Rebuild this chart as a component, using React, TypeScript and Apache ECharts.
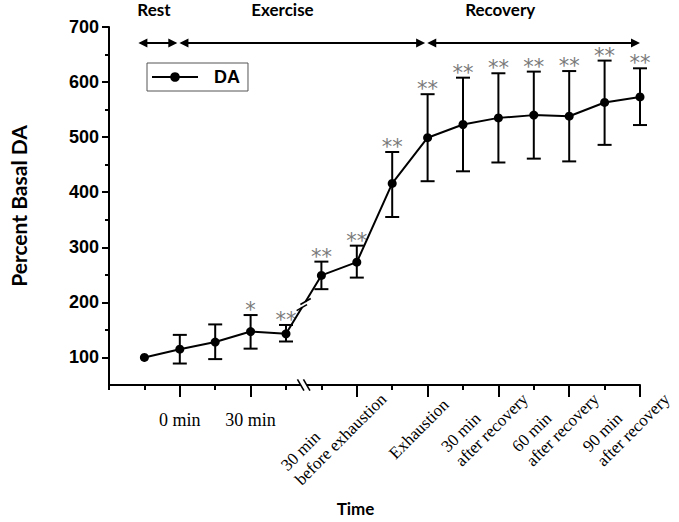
import React, { useEffect, useRef } from "react";
import * as echarts from "echarts";

// ---- data ----
const daMean = [100, 115, 128, 147, 143, 249, 273, 416, 499, 523, 535, 540, 538, 563, 573];
const daUpper = [100, 141, 160, 177, 159, 274, 303, 473, 578, 608, 616, 619, 620, 639, 625];
const daLower = [100, 89, 97, 116, 129, 224, 245, 355, 420, 438, 454, 461, 456, 486, 522];
const significance = ["", "", "", "*", "**", "**", "**", "**", "**", "**", "**", "**", "**", "**", "**"];

const flatTickIdx = [1, 3];
const flatTickLabels = ["0 min", "30 min"];
const slantTickIdx = [6, 8, 10, 12, 14];
const slantTickLabels = [
  "30 min\nbefore exhaustion",
  "Exhaustion",
  "30 min\nafter recovery",
  "60 min\nafter recovery",
  "90 min\nafter recovery",
];
const majorTickIdx = [1, 3, 6, 8, 10, 12, 14];
const minorTickIdx = [-1, 0, 2, 4, 5, 7, 9, 11, 13];
const yMajorTicks = [100, 200, 300, 400, 500, 600, 700];
const yMinorTicks = [150, 250, 350, 450, 550, 650];

const phaseNames = ["Rest", "Exercise", "Recovery"];
const phaseStart = [-0.17, 0.99, 7.99];
const phaseEnd = [0.93, 7.93, 14];
const phaseLabelX = [0.27, 3.9, 10.05];
const phaseLevel = 671;

const breakAfterIdx = 4;

const X_MIN = -1;
const X_MAX = 14;
const Y_MIN = 50;
const Y_MAX = 700;

const SANS = "Liberation Sans";
const SERIF = "Liberation Serif";
const TITLE = "Lato";

export default function App() {
  const ref = useRef<HTMLDivElement>(null);

  useEffect(() => {
    if (!ref.current) return;
    const chart = echarts.init(ref.current, undefined, { renderer: "svg" });

    const black = "#000";
    const labelFont = { fontFamily: SERIF, fontSize: 17, lineHeight: 20, color: black };

    const option: any = {
      animation: false,
      backgroundColor: "#fff",
      grid: { left: 108.6, right: 39, top: 27, bottom: 133.5 },
      legend: {
        data: ["DA"],
        left: 147,
        top: 63,
        orient: "horizontal",
        selectedMode: false,
        borderColor: "#555",
        borderWidth: 1,
        padding: [5, 8, 5, 4],
        itemWidth: 46,
        itemHeight: 12,
        textStyle: {
          fontFamily: SANS,
          fontWeight: "bold",
          fontSize: 18,
          color: black,
          padding: [0, 0, 0, 11],
        },
      },
      xAxis: [
        {
          type: "value",
          min: X_MIN,
          max: X_MAX,
          interval: 1,
          position: "bottom",
          axisLine: { show: true, onZero: false, lineStyle: { color: black, width: 2 } },
          axisTick: { show: true, customValues: minorTickIdx, length: 5, lineStyle: { color: black, width: 2 } },
          axisLabel: {
            customValues: flatTickIdx,
            formatter: (v: number) => {
              const k = flatTickIdx.indexOf(Math.round(v));
              return k >= 0 ? flatTickLabels[k] : "";
            },
            margin: 26,
            fontFamily: SERIF,
            fontSize: 18,
            color: black,
          },
          splitLine: { show: false },
          name: "Time",
          nameLocation: "middle",
          nameGap: 115,
          nameTextStyle: {
            fontFamily: TITLE,
            fontWeight: "bold",
            fontSize: 17,
            color: black,
            padding: [0, 38, 0, 0],
          },
        },
        {
          type: "value",
          min: X_MIN,
          max: X_MAX,
          interval: 1,
          position: "bottom",
          axisLine: { show: false, onZero: false },
          axisTick: { show: true, customValues: majorTickIdx, length: 12, lineStyle: { color: black, width: 2 } },
          axisLabel: {
            customValues: slantTickIdx,
            showMaxLabel: true,
            showMinLabel: true,
            rotate: 45,
            margin: 24,
            padding: [0, -28, 0, 0],
            formatter: (v: number) => {
              const k = slantTickIdx.indexOf(Math.round(v));
              if (k < 0) return "";
              const lines = slantTickLabels[k].split("\n");
              const style = lines.length === 1 ? "s" : "l";
              return lines.map((s) => "{" + style + "|" + s + "}").join("\n");
            },
            rich: {
              l: { align: "left", ...labelFont },
              s: { align: "left", ...labelFont, padding: [16, 10, 0, 0] },
            },
          },
          splitLine: { show: false },
        },
      ],
      yAxis: [
        {
          type: "value",
          min: Y_MIN,
          max: Y_MAX,
          interval: 50,
          position: "left",
          axisLine: { show: true, onZero: false, lineStyle: { color: black, width: 2 } },
          axisTick: { show: true, customValues: yMajorTicks, length: 7, lineStyle: { color: black, width: 2 } },
          axisLabel: {
            customValues: yMajorTicks,
            margin: 10,
            fontFamily: SANS,
            fontWeight: "bold",
            fontSize: 18,
            color: black,
          },
          splitLine: { show: false },
          name: "Percent Basal DA",
          nameLocation: "middle",
          nameGap: 80,
          nameTextStyle: { fontFamily: TITLE, fontWeight: "bold", fontSize: 21, color: black },
        },
        {
          type: "value",
          min: Y_MIN,
          max: Y_MAX,
          interval: 50,
          position: "left",
          axisLine: { show: false, onZero: false },
          axisTick: { show: true, customValues: yMinorTicks, length: 4, lineStyle: { color: black, width: 2 } },
          axisLabel: { show: false },
          splitLine: { show: false },
        },
      ],
      series: [
        {
          type: "custom",
          name: "errors",
          xAxisIndex: 0,
          yAxisIndex: 0,
          z: 2,
          data: daMean.map((_, i) => [i, daLower[i], daUpper[i]]),
          encode: { x: 0, y: [1, 2] },
          renderItem: (params: any, api: any) => {
            const i = api.value(0);
            const lo = api.value(1);
            const hi = api.value(2);
            const pLo = api.coord([i, lo]);
            const pHi = api.coord([i, hi]);
            const cap = 7;
            const children: any[] = [];
            const st = { stroke: black, lineWidth: 2 };
            if (hi > lo) {
              children.push({ type: "line", shape: { x1: pLo[0], y1: pLo[1], x2: pHi[0], y2: pHi[1] }, style: st });
              children.push({ type: "line", shape: { x1: pLo[0] - cap, y1: pLo[1], x2: pLo[0] + cap, y2: pLo[1] }, style: st });
              children.push({ type: "line", shape: { x1: pHi[0] - cap, y1: pHi[1], x2: pHi[0] + cap, y2: pHi[1] }, style: st });
            }
            const star = significance[params.dataIndex];
            if (star) {
              children.push({
                type: "text",
                x: pHi[0],
                y: pHi[1] - 5,
                style: {
                  text: star,
                  fill: "#7a7a7a",
                  fontFamily: "DejaVu Sans",
                  fontSize: 21,
                  align: "center",
                  verticalAlign: "middle",
                },
              });
            }
            return { type: "group", children };
          },
        },
        {
          type: "line",
          name: "DA",
          xAxisIndex: 0,
          yAxisIndex: 0,
          z: 3,
          data: daMean.map((v, i) => [i, v]),
          symbol: "circle",
          symbolSize: 9,
          itemStyle: { color: black },
          lineStyle: { color: black, width: 2 },
        },
        {
          type: "custom",
          name: "breaks",
          xAxisIndex: 0,
          yAxisIndex: 0,
          z: 10,
          silent: true,
          data: [[breakAfterIdx + 0.5, Y_MIN]],
          encode: { x: 0, y: 1 },
          renderItem: (params: any, api: any) => {
            const p1 = api.coord([breakAfterIdx, daMean[breakAfterIdx]]);
            const p2 = api.coord([breakAfterIdx + 1, daMean[breakAfterIdx + 1]]);
            const mx = (p1[0] + p2[0]) / 2;
            const my = (p1[1] + p2[1]) / 2;
            const len = Math.hypot(p2[0] - p1[0], p2[1] - p1[1]);
            const ux = (p2[0] - p1[0]) / len;
            const uy = (p2[1] - p1[1]) / len;
            const pa = api.coord([api.value(0), api.value(1)]);
            const st = { stroke: black, lineWidth: 1.6 };
            const children: any[] = [];
            children.push({
              type: "line",
              shape: { x1: mx - ux * 3.2, y1: my - uy * 3.2, x2: mx + ux * 3.2, y2: my + uy * 3.2 },
              style: { stroke: "#fff", lineWidth: 5 },
            });
            const vx = Math.cos(Math.PI / 6);
            const vy = -Math.sin(Math.PI / 6);
            [-3.6, 3.6].forEach((o) => {
              const cx = mx + ux * o;
              const cy = my + uy * o;
              children.push({
                type: "line",
                shape: { x1: cx - vx * 6, y1: cy - vy * 6, x2: cx + vx * 6, y2: cy + vy * 6 },
                style: st,
              });
            });
            children.push({
              type: "rect",
              shape: { x: pa[0] - 3, y: pa[1] - 2.5, width: 6, height: 5 },
              style: { fill: "#fff" },
            });
            const ax = Math.cos(Math.PI / 3);
            const ay = Math.sin(Math.PI / 3);
            [-3, 3].forEach((o) => {
              const cx = pa[0] + o;
              const cy = pa[1];
              children.push({
                type: "line",
                shape: { x1: cx - ax * 6.5, y1: cy - ay * 6.5, x2: cx + ax * 6.5, y2: cy + ay * 6.5 },
                style: st,
              });
            });
            return { type: "group", children };
          },
        },
        {
          type: "custom",
          name: "phases",
          xAxisIndex: 0,
          yAxisIndex: 0,
          z: 10,
          silent: true,
          data: phaseNames.map((_, i) => [phaseStart[i], phaseEnd[i], phaseLabelX[i], phaseLevel]),
          encode: { x: [0, 1, 2], y: 3 },
          renderItem: (params: any, api: any) => {
            const a = api.coord([api.value(0), api.value(3)]);
            const b = api.coord([api.value(1), api.value(3)]);
            const lx = api.coord([api.value(2), api.value(3)])[0];
            const y = a[1];
            const h = 9;
            const w = 4.5;
            return {
              type: "group",
              children: [
                { type: "line", shape: { x1: a[0] + 2, y1: y, x2: b[0] - 2, y2: y }, style: { stroke: black, lineWidth: 2 } },
                { type: "polygon", shape: { points: [[a[0], y], [a[0] + h, y - w], [a[0] + h, y + w]] }, style: { fill: black } },
                { type: "polygon", shape: { points: [[b[0], y], [b[0] - h, y - w], [b[0] - h, y + w]] }, style: { fill: black } },
                {
                  type: "text",
                  x: lx,
                  y: y - 33,
                  style: {
                    text: phaseNames[params.dataIndex],
                    fill: black,
                    fontFamily: TITLE,
                    fontWeight: "bold",
                    fontSize: 17,
                    align: "center",
                    verticalAlign: "middle",
                  },
                },
              ],
            };
          },
        },
      ],
    };

    chart.setOption(option);
    return () => chart.dispose();
  }, []);

  return (
    <div
      ref={ref}
      style={{ position: "fixed", left: 0, top: 0, width: 679, height: 522, background: "#fff" }}
    />
  );
}
